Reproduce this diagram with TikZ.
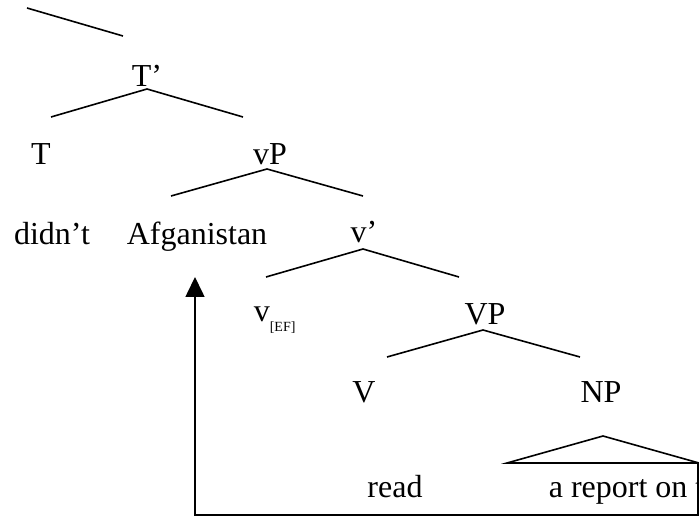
\documentclass[tikz,border=0pt]{standalone}
\usepackage{fontspec}
\setmainfont{Liberation Serif}
\usetikzlibrary{arrows.meta}

\begin{document}
\begin{tikzpicture}[x=1pt, y=-1pt, line width=1.6pt,
		lbl/.style={anchor=base, inner sep=0pt, font=\fontsize{32}{38}\selectfont},
		branch/.style={line width=1.6pt}]
		\useasboundingbox (0,0) rectangle (699,518);
		\clip (0,0) rectangle (699,518);
		
		% labels
		\node[lbl] (Tbar) at (147,87) {T’};
		\node[lbl] (T) at (41,165) {T};
		\node[lbl] (vP) at (270,165) {vP};
		\node[lbl] (didnt) at (52,245) {didn’t};
		\node[lbl] (afg) at (197,245) {Afganistan};
		\node[lbl] (vbar) at (364,243) {v’};
		\node[lbl, anchor=base west] (vEF) at (253,322) {v\raisebox{-10pt}{\fontsize{14}{16}\selectfont[EF]}};
		\node[lbl] (VP) at (485,325) {VP};
		\node[lbl] (V) at (364,403) {V};
		\node[lbl] (NP) at (601,403) {NP};
		\node[lbl] (read) at (395,497) {read};
		\node[lbl, anchor=base west] (obj) at (548,497) {a report on t};
		
		% branch ends
		\coordinate (top1) at (27,8); \coordinate (top2) at (123,36);
		\coordinate (a1) at (147,89); \coordinate (a1l) at (51,117); \coordinate (a1r) at (243,117);
		\coordinate (a2) at (267,169); \coordinate (a2l) at (171,196); \coordinate (a2r) at (363,196);
		\coordinate (a3) at (363,249); \coordinate (a3l) at (266,277); \coordinate (a3r) at (459,277);
		\coordinate (a4) at (483,330); \coordinate (a4l) at (387,357); \coordinate (a4r) at (580,357);
		\coordinate (a5) at (603,436); \coordinate (a5l) at (507,463); \coordinate (a5r) at (699,463);
		
		\path[branch] (top1) edge (top2);
		\path[branch] (a1) edge (a1l) (a1) edge (a1r);
		\path[branch] (a2) edge (a2l) (a2) edge (a2r);
		\path[branch] (a3) edge (a3l) (a3) edge (a3r);
		\path[branch] (a4) edge (a4l) (a4) edge (a4r);
		\draw[branch] (a5l) -- (a5) -- (a5r) -- cycle;
		
		% movement arrow
		\coordinate (src) at (698,463);
		\coordinate (bend) at (195,515);
		\coordinate (tgt) at (195,277);
		\draw[branch, -{Triangle[width=19pt, length=20pt]}] (src) |- (bend) -- (tgt);
	\end{tikzpicture}
\end{document}
